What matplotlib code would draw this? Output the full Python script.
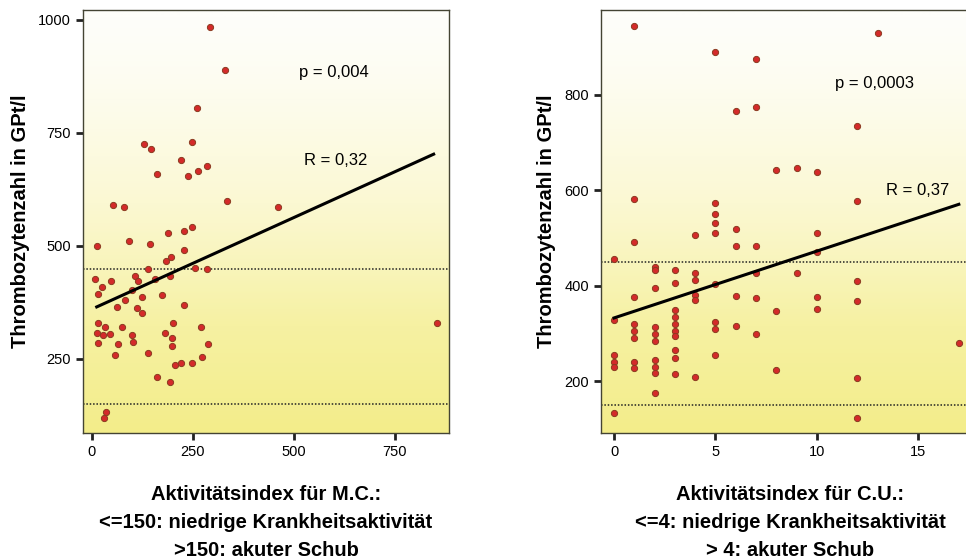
import numpy as np
import matplotlib.pyplot as plt
from matplotlib.colors import LinearSegmentedColormap

plt.rcParams['font.family'] = ['Liberation Sans', 'DejaVu Sans']

# Morbus Crohn: Aktivitaetsindex vs. Thrombozyten
mc_x = [292, 330, 260, 130, 146, 247, 220, 160, 238, 262, 285, 334, 52, 79, 460,
        247, 228, 188, 12, 92, 144, 228, 196, 183, 139, 255, 285,
        7, 47, 106, 156, 193, 114, 25, 15, 99, 124, 82, 173, 62, 111, 124, 228,
        15, 74, 200, 270, 32, 12, 27, 45, 99, 181, 198, 198, 287, 15, 64, 101,
        57, 139, 272, 205, 220, 247, 161, 193, 35, 30, 855]
mc_y = [985, 890, 805, 725, 715, 730, 690, 660, 655, 666, 677, 600, 590, 586, 585,
        542, 533, 528, 500, 510, 505, 490, 476, 467, 449, 451, 449,
        427, 423, 434, 427, 434, 423, 409, 394, 403, 387, 380, 392, 365, 363, 352, 369,
        330, 321, 330, 321, 321, 307, 303, 305, 303, 307, 296, 279, 283, 285, 283, 288,
        259, 263, 254, 237, 241, 241, 210, 199, 133, 119, 330]

# Colitis ulcerosa
cu_x = [1, 5, 7, 13, 6, 7, 12, 8, 9, 10, 1, 12, 5, 5, 5, 5, 4, 6, 1, 6, 7,
        0, 2, 2, 3, 4, 4, 7, 9, 10, 10, 2, 3, 5, 1, 4, 4, 6, 7, 10, 10, 8, 12, 12,
        0, 1, 1, 1, 1, 1, 2, 2, 2, 2, 2, 2, 2,
        3, 3, 3, 3, 3, 3, 3, 3, 4, 0, 0, 0, 0, 5, 5, 5, 6, 7, 8, 12, 12, 17]
cu_y = [945, 890, 875, 930, 766, 775, 735, 643, 647, 639, 582, 578, 574, 551, 532, 511, 507, 519, 492, 484, 484,
        457, 440, 433, 433, 427, 413, 427, 427, 511, 471, 396, 406, 404, 377, 381, 371, 379, 375, 377, 352, 348, 410, 369,
        329, 320, 305, 290, 240, 228, 315, 300, 285, 245, 230, 218, 176,
        350, 335, 320, 305, 295, 265, 250, 216, 210, 255, 240, 230, 134, 325, 310, 256, 316, 300, 224, 207, 124, 281]

mc_fit = (12, 365), (846, 703)
cu_fit = (0, 333), (17, 571)

bg = LinearSegmentedColormap.from_list('bg', ['#fefefa', '#fbf8d2', '#f6f1a2', '#f3ed8a'])
grad = np.linspace(0, 1, 256).reshape(-1, 1) ** 1.4

fig = plt.figure(figsize=(9.66, 5.6), dpi=100)
ax1 = fig.add_axes([0.0859, 0.2268, 0.3789, 0.7553])
ax2 = fig.add_axes([0.6222, 0.2268, 0.392, 0.7553])

panels = [
    (ax1, mc_x, mc_y, mc_fit, (-22, 884), (86, 1022), [0, 250, 500, 750], [250, 500, 750, 1000],
     'p = 0,004', (0.686, 0.853), 'R = 0,32', (0.69, 0.645),
     'Aktivitätsindex für M.C.:\n<=150: niedrige Krankheitsaktivität\n>150: akuter Schub'),
    (ax2, cu_x, cu_y, cu_fit, (-0.64, 18.03), (92, 978), [0, 5, 10, 15], [200, 400, 600, 800],
     'p = 0,0003', (0.723, 0.827), 'R = 0,37', (0.836, 0.574),
     'Aktivitätsindex für C.U.:\n<=4: niedrige Krankheitsaktivität\n> 4: akuter Schub'),
]

for ax, x, y, fit, xl, yl, xt, yt, ptxt, ppos, rtxt, rpos, xlab in panels:
    ax.imshow(grad, cmap=bg, aspect='auto', extent=[0, 1, 0, 1],
              transform=ax.transAxes, zorder=0)
    ax.axhline(450, color='#222222', linestyle=(0, (1, 1.2)), linewidth=1.1, zorder=1)
    ax.axhline(150, color='#222222', linestyle=(0, (1, 1.2)), linewidth=1.1, zorder=1)
    ax.scatter(x, y, s=20, marker='o', color='#d42a2a', edgecolors='#8a3a20',
               linewidths=0.7, zorder=3)
    ax.plot([fit[0][0], fit[1][0]], [fit[0][1], fit[1][1]], color='black',
            linewidth=2.2, zorder=4)
    ax.text(ppos[0], ppos[1], ptxt, transform=ax.transAxes, fontsize=12,
            ha='center', va='center')
    ax.text(rpos[0], rpos[1], rtxt, transform=ax.transAxes, fontsize=12,
            ha='center', va='center')
    ax.set_xlim(*xl)
    ax.set_ylim(*yl)
    ax.set_xticks(xt)
    ax.set_yticks(yt)
    ax.tick_params(direction='out', length=5, width=2, labelsize=10.5, color='#222222')
    for s in ax.spines.values():
        s.set_color('#444433')
        s.set_linewidth(1.0)
    ax.set_ylabel('Thrombozytenzahl in GPt/l', fontsize=14.5, fontweight='bold', labelpad=6)
    ax.set_xlabel(xlab, fontsize=14.5, fontweight='bold', linespacing=1.6, labelpad=19)

plt.savefig('out.png', dpi=100)
